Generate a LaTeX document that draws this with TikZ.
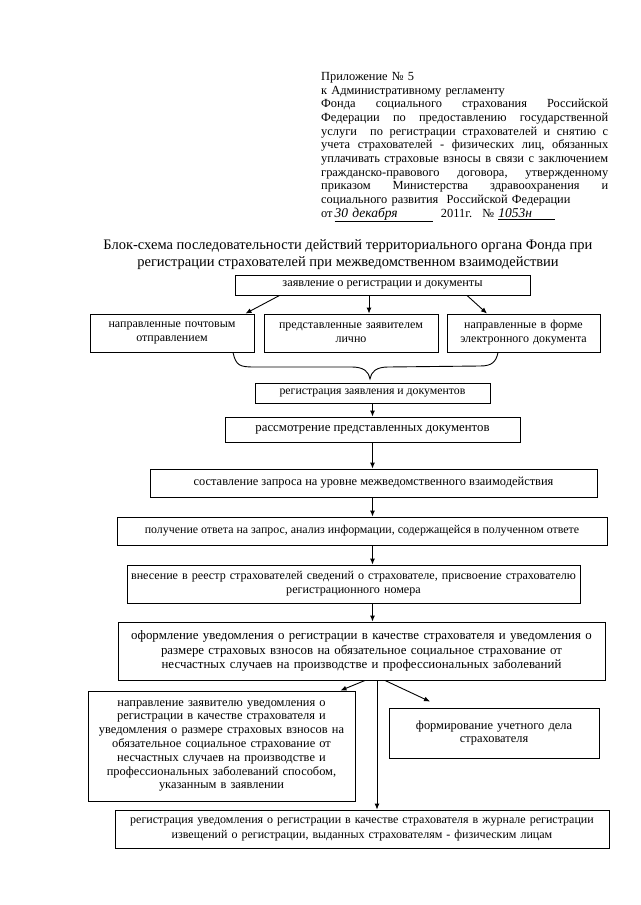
\documentclass[tikz,border=0pt]{standalone}
\usepackage{fontspec}
\setmainfont{Liberation Serif}
\usetikzlibrary{arrows.meta,calc}
\newcommand{\jline}[1]{\leavevmode\hbox to 287pt{#1}}
\begin{document}
\begin{tikzpicture}[x=1pt,y=-1pt,
  box/.style={draw, line width=0.9pt, inner sep=2pt, align=center},
  arr/.style={line width=0.9pt, -{Latex[length=6pt,width=5pt]}},
  fs/.style n args={2}{font=\fontsize{#1}{#2}\selectfont}]
\fill[white] (0,0) rectangle (640,905);
\useasboundingbox (0,0) rectangle (640,905);

% header
\node[anchor=north west, inner sep=0, text width=287pt, fs={12.4}{13.7}, align=left] (hdr) at (321,72) {%
Приложение № 5\\
к Административному регламенту\\
\jline{Фонда\hfill социального\hfill страхования\hfill Российской}\\
\jline{Федерации\hfill по\hfill предоставлению\hfill государственной}\\
\jline{услуги\hfill\hfill по\hfill регистрации\hfill страхователей\hfill и\hfill снятию\hfill с}\\
\jline{учета\hfill страхователей\hfill -\hfill физических\hfill лиц,\hfill обязанных}\\
\jline{уплачивать\hfill страховые\hfill взносы\hfill в\hfill связи\hfill с\hfill заключением}\\
\jline{гражданско-правового\hfill договора,\hfill утвержденному}\\
\jline{приказом\hfill Министерства\hfill здравоохранения\hfill и}\\
социального развития \ Российской Федерации\\
от\,\underline{\makebox[98pt][l]{\fontsize{13.5}{13}\selectfont\itshape 30 декабря}}\ \ 2011г. \ № \underline{\makebox[57pt][l]{\fontsize{13.5}{13}\selectfont\itshape 1053н}}};

% title
\node[fs={14.5}{17}, align=center, inner sep=0] (title) at (348,255) {Блок-схема последовательности действий территориального органа Фонда при\\регистрации страхователей при межведомственном взаимодействии};

% boxes
\node[box, fs={12.3}{14}, minimum width=295pt, minimum height=20pt] (b1) at (382.5,285) {заявление о регистрации и документы};
\node[box, fs={12}{14}, minimum width=164pt, minimum height=38pt, text width=160pt] (bL) at (172,333) {направленные почтовым\\отправлением};
\node[box, fs={12}{14}, minimum width=174pt, minimum height=38pt, text width=170pt] (bM) at (351,333) {представленные заявителем\\лично};
\node[box, fs={12}{14}, minimum width=153pt, minimum height=38pt, text width=149pt] (bR) at (523.5,333) {направленные в форме\\электронного документа};
\node[box, fs={11.8}{14}, minimum width=235pt, minimum height=20pt] (b2) at (372.5,393) {регистрация заявления и документов};
\node[box, fs={12.8}{14}, minimum width=295pt, minimum height=25pt] (b3) at (372.5,429.5) {рассмотрение представленных документов};
\node[box, fs={12.4}{14}, minimum width=447pt, minimum height=28pt] (b4) at (373.5,483) {составление запроса на уровне межведомственного взаимодействия};
\node[box, fs={11.9}{14}, minimum width=490pt, minimum height=28pt] (b5) at (362,531) {получение ответа на запрос, анализ информации, содержащейся в полученном ответе};
\node[box, fs={12.1}{14}, minimum width=453pt, minimum height=38pt, text width=449pt] (b6) at (353.5,584) {внесение в реестр страхователей сведений о страхователе, присвоение страхователю\\регистрационного номера};
\node[box, fs={12.9}{14.5}, minimum width=487pt, minimum height=58pt, text width=483pt] (b7) at (361.5,651) {оформление уведомления о регистрации в качестве страхователя и уведомления о\\размере страховых взносов на обязательное социальное страхование от\\несчастных случаев на производстве и профессиональных заболеваний};
\node[box, fs={12.4}{13.8}, minimum width=267pt, minimum height=110pt, text width=263pt] (b8) at (221.5,746) {направление заявителю уведомления о\\регистрации в качестве страхователя и\\уведомления о размере страховых взносов на\\обязательное социальное страхование от\\несчастных случаев на производстве и\\профессиональных заболеваний способом,\\указанным в заявлении};
\node[box, fs={12.4}{13.8}, minimum width=210pt, minimum height=50pt, text width=206pt] (b9) at (494,733) {формирование учетного дела\\страхователя\\[8pt]};
\node[box, fs={12}{15}, minimum width=494pt, minimum height=38pt, text width=490pt] (b10) at (362,829) {регистрация уведомления о регистрации в качестве страхователя в журнале регистрации\\извещений о регистрации, выданных страхователям - физическим лицам};

% connectors
\draw[arr] ([xshift=45pt]b1.south west) -- ([xshift=-9pt]bL.north east);
\draw[arr] ([xshift=-13.5pt]b1.south) -- ([xshift=18pt]bM.north);
\draw[arr] ([xshift=84.5pt]b1.south) -- ([xshift=-36.5pt]bR.north);
\draw[line width=0.9pt] (bL.south -| 233,0) .. controls (236,366) and (240,367) .. (255,367) -- (352,367) .. controls (364,367) and (369,372) .. (370,379) .. controls (371,372) and (376,367) .. (388,367) -- (480,366) .. controls (492,366) and (496,362) .. (bR.south -| 498,0);
\draw[arr] (b2.south) -- (b3.north);
\draw[arr] (b3.south) -- (b3.south |- b4.north);
\draw[arr] (b3.south |- b4.south) -- (b3.south |- b5.north);
\draw[arr] (b3.south |- b5.south) -- (b3.south |- b6.north);
\draw[arr] (b3.south |- b6.south) -- (b3.south |- b7.north);
\draw[arr] ([xshift=3.5pt]b7.south) -- ([xshift=-15pt]b8.north east);
\draw[arr] ([xshift=23.5pt]b7.south) -- ([xshift=-64pt,yshift=6pt]b9.north);
\draw[arr] ([xshift=15.5pt]b7.south) -- ([xshift=15.5pt]b7.south |- b10.north);
\end{tikzpicture}
\end{document}
